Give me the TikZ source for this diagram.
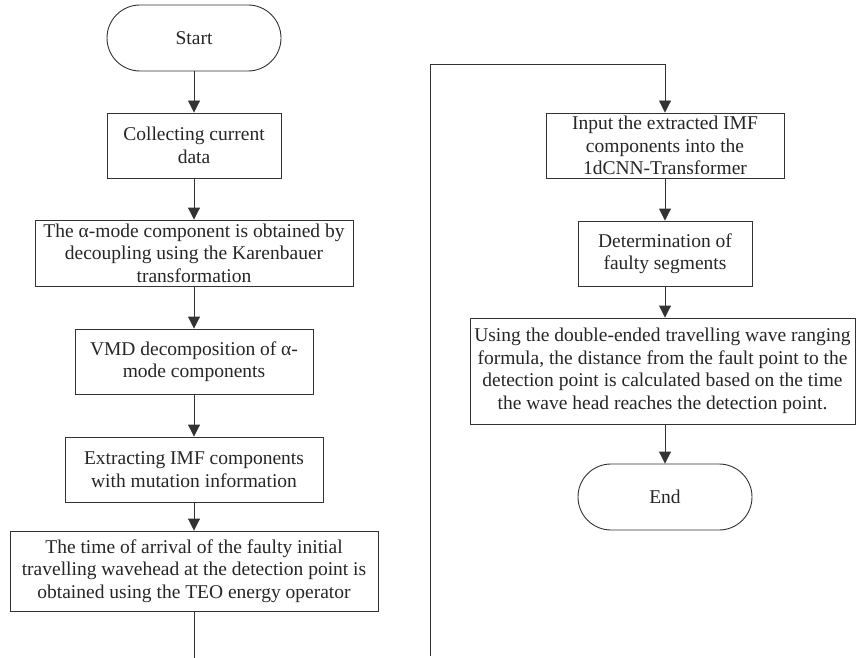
\documentclass[tikz,border=0pt]{standalone}
\usepackage{fontspec}
\setmainfont{Liberation Serif}
\usetikzlibrary{arrows.meta}
\begin{document}
\begin{tikzpicture}[x=1pt,y=1pt,
  box/.style={draw=black!80, line width=0.9pt, align=center, inner sep=0pt,
    font=\fontsize{19.5}{22.5}\selectfont, text=black!85},
  term/.style={box, rounded corners=33pt, minimum width=174pt, minimum height=66pt},
  arr/.style={draw=black!80, line width=0.9pt, -{Triangle[length=12pt,width=12pt]}},
  ln/.style={draw=black!80, line width=0.9pt}]
\useasboundingbox (0,0) rectangle (856,-658);
% left column
\node[term] (start) at (194,-38) {Start};
\node[box, minimum width=174pt, minimum height=65pt] (collect) at (194,-145.5) {Collecting current\\data};
\node[box, minimum width=318pt, minimum height=66pt] (alpha) at (194,-253) {The α-mode component is obtained by\\decoupling using the Karenbauer\\transformation};
\node[box, minimum width=238pt, minimum height=65pt] (vmd) at (194,-361.5) {VMD decomposition of α-\\mode components};
\node[box, minimum width=258pt, minimum height=65pt] (extr) at (194,-469.5) {Extracting IMF components\\with mutation information};
\node[box, minimum width=368pt, minimum height=80pt] (teo) at (194,-571) {The time of arrival of the faulty initial\\travelling wavehead at the detection point is\\obtained using the TEO energy operator};
\coordinate (lb) at (194,-658);
% right column
\coordinate (rb) at (430,-656);
\coordinate (rt) at (430,-64);
\node[box, minimum width=238pt, minimum height=65pt] (input) at (665,-145.5) {Input the extracted IMF\\components into the\\1dCNN-Transformer};
\node[box, minimum width=174pt, minimum height=65pt] (det) at (665,-253.5) {Determination of\\faulty segments};
\node[box, minimum width=385pt, minimum height=106pt] (using) at (662.5,-371) {Using the double-ended travelling wave ranging\\formula, the distance from the fault point to the\\detection point is calculated based on the time\\the wave head reaches the detection point.};
\node[term] (end) at (665,-497) {End};
% connectors
\draw[arr] (start) -- (collect);
\draw[arr] (collect) -- (alpha);
\draw[arr] (alpha) -- (vmd);
\draw[arr] (vmd) -- (extr);
\draw[arr] (extr) -- (teo);
\draw[ln] (teo) -- (lb);
\draw[arr] (rb) -- (rt) -| (input);
\draw[arr] (input) -- (det);
\draw[arr] (det.south) -- (det.south |- using.north);
\draw[arr] (using.south -| end.north) -- (end);
\end{tikzpicture}
\end{document}
